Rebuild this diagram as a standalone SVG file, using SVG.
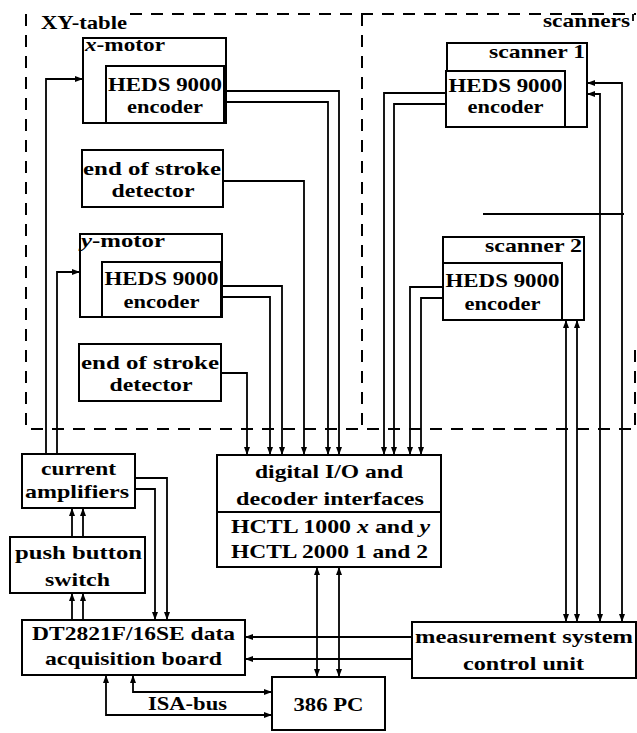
<svg xmlns="http://www.w3.org/2000/svg" width="637" height="733" viewBox="0 0 637 733">
<style>
  .box{fill:#fff;stroke:#000;stroke-width:2}
  .dash{fill:none;stroke:#000;stroke-width:2;stroke-dasharray:12 9}
  .ln{fill:none;stroke:#000;stroke-width:1.8}
  .a{marker-end:url(#ah)}
  .aa{marker-end:url(#ah);marker-start:url(#ah)}
  text{font-family:"Liberation Serif","DejaVu Serif",serif;font-weight:bold;font-size:19px;fill:#000}
  .c{text-anchor:middle}
  .e{text-anchor:end}
  .s{font-size:19px}
</style>
<defs>
  <marker id="ah" markerUnits="userSpaceOnUse" markerWidth="8" markerHeight="6" refX="8" refY="3" orient="auto-start-reverse">
    <path d="M0,0 L8,3 L0,6 z" fill="#000"/>
  </marker>
</defs>
<rect width="637" height="733" fill="#fff"/>

<g id="frames">
  <path class="dash" d="M26,14 V429 H636"/>
  <path class="dash" d="M130,14 H636"/>
  <path class="dash" d="M362,14 V429"/>
  <path class="dash" d="M635,350 V429"/>
  <path class="ln" d="M633,14 V21"/>
  <text class="s" x="41" y="29" textLength="86" lengthAdjust="spacingAndGlyphs" font-family="Liberation Serif, DejaVu Serif, serif">XY-table</text>
  <text class="s" x="543" y="27" textLength="87" lengthAdjust="spacingAndGlyphs" font-family="Liberation Serif, DejaVu Serif, serif">scanners</text>
</g>

<g id="connectors">
  <path class="ln a" d="M46,454 V79 H83"/>
  <path class="ln a" d="M57,454 V272 H80"/>
  <path class="ln a" d="M224,91 H339 V455"/>
  <path class="ln a" d="M224,102 H328 V455"/>
  <path class="ln a" d="M223,181 H304 V455"/>
  <path class="ln a" d="M221,286 H282 V455"/>
  <path class="ln a" d="M221,297 H270 V455"/>
  <path class="ln a" d="M221,373 H247 V455"/>
  <path class="ln a" d="M446,93 H384 V455"/>
  <path class="ln a" d="M446,104 H394 V455"/>
  <path class="ln a" d="M443,287 H410 V455"/>
  <path class="ln a" d="M443,298 H421 V455"/>
  <path class="ln aa" d="M622,622 V83 H587"/>
  <path class="ln aa" d="M600,622 V94 H587"/>
  <path class="ln aa" d="M566,320 V622"/>
  <path class="ln aa" d="M577,320 V622"/>
  <path class="ln" d="M483,214 H624"/>
  <path class="ln a" d="M412,637 H245"/>
  <path class="ln a" d="M412,659 H245"/>
  <path class="ln aa" d="M317,567 V677"/>
  <path class="ln aa" d="M339,567 V677"/>
  <path class="ln a" d="M135,478 H167 V620"/>
  <path class="ln a" d="M135,489 H155 V620"/>
  <path class="ln a" d="M72,537 V508"/>
  <path class="ln a" d="M83,537 V508"/>
  <path class="ln a" d="M72,620 V593"/>
  <path class="ln a" d="M83,620 V593"/>
  <path class="ln aa" d="M133,675 V692 H272"/>
  <path class="ln aa" d="M106,675 V715 H272"/>
</g>

<g id="x-motor">
  <rect class="box" x="83" y="38" width="143" height="85"/>
  <text x="85" y="51" textLength="80" lengthAdjust="spacingAndGlyphs"><tspan font-style="italic">x</tspan>-motor</text>
</g>
<g id="x-encoder">
  <rect class="box" x="106" y="66" width="118" height="57"/>
  <text class="c" x="165" y="91" textLength="114" lengthAdjust="spacingAndGlyphs">HEDS 9000</text>
  <text class="c" x="165" y="113" textLength="76" lengthAdjust="spacingAndGlyphs">encoder</text>
</g>
<g id="eos-1">
  <rect class="box" x="82" y="150" width="141" height="57"/>
  <text class="c" x="152" y="175" textLength="138" lengthAdjust="spacingAndGlyphs">end of stroke</text>
  <text class="c" x="153" y="197" textLength="83" lengthAdjust="spacingAndGlyphs">detector</text>
</g>
<g id="y-motor">
  <rect class="box" x="80" y="234" width="142" height="83"/>
  <text x="81" y="247" textLength="84" lengthAdjust="spacingAndGlyphs"><tspan font-style="italic">y</tspan>-motor</text>
</g>
<g id="y-encoder">
  <rect class="box" x="102" y="262" width="119" height="55"/>
  <text class="c" x="161.5" y="285" textLength="114" lengthAdjust="spacingAndGlyphs">HEDS 9000</text>
  <text class="c" x="161.5" y="308" textLength="76" lengthAdjust="spacingAndGlyphs">encoder</text>
</g>
<g id="eos-2">
  <rect class="box" x="79" y="344" width="142" height="57"/>
  <text class="c" x="150" y="369" textLength="138" lengthAdjust="spacingAndGlyphs">end of stroke</text>
  <text class="c" x="151" y="391" textLength="83" lengthAdjust="spacingAndGlyphs">detector</text>
</g>
<g id="scanner-1">
  <rect class="box" x="447" y="43" width="140" height="84"/>
  <text class="e" x="585" y="58" textLength="96" lengthAdjust="spacingAndGlyphs">scanner 1</text>
</g>
<g id="s1-encoder">
  <rect class="box" x="446" y="71" width="119" height="56"/>
  <text class="c" x="505.5" y="92" textLength="114" lengthAdjust="spacingAndGlyphs">HEDS 9000</text>
  <text class="c" x="505.5" y="113" textLength="76" lengthAdjust="spacingAndGlyphs">encoder</text>
</g>
<g id="scanner-2">
  <rect class="box" x="443" y="237" width="141" height="83"/>
  <text class="e" x="582" y="252" textLength="97" lengthAdjust="spacingAndGlyphs">scanner 2</text>
</g>
<g id="s2-encoder">
  <rect class="box" x="443" y="263" width="119" height="57"/>
  <text class="c" x="502.5" y="287" textLength="114" lengthAdjust="spacingAndGlyphs">HEDS 9000</text>
  <text class="c" x="502.5" y="310" textLength="76" lengthAdjust="spacingAndGlyphs">encoder</text>
</g>
<g id="current-amplifiers">
  <rect class="box" x="22" y="454" width="113" height="54"/>
  <text class="c" x="78.5" y="475" textLength="75" lengthAdjust="spacingAndGlyphs">current</text>
  <text class="c" x="77" y="498" textLength="104" lengthAdjust="spacingAndGlyphs">amplifiers</text>
</g>
<g id="push-button">
  <rect class="box" x="10" y="537" width="135" height="56"/>
  <text class="c" x="78.5" y="559" textLength="127" lengthAdjust="spacingAndGlyphs">push button</text>
  <text class="c" x="77.5" y="586" textLength="65" lengthAdjust="spacingAndGlyphs">switch</text>
</g>
<g id="dt2821">
  <rect class="box" x="22" y="620" width="223" height="55"/>
  <text class="c" x="133.5" y="640" textLength="203" lengthAdjust="spacingAndGlyphs">DT2821F/16SE data</text>
  <text class="c" x="133.5" y="665" textLength="177" lengthAdjust="spacingAndGlyphs">acquisition board</text>
</g>
<g id="digital-io">
  <rect class="box" x="217" y="455" width="224" height="112"/>
  <path class="ln" d="M217,512 H441" stroke-width="2"/>
  <text class="c" x="329" y="478" textLength="148" lengthAdjust="spacingAndGlyphs">digital I/O and</text>
  <text class="c" x="330" y="505" textLength="188" lengthAdjust="spacingAndGlyphs">decoder interfaces</text>
  <text class="c" x="330.5" y="533" textLength="199" lengthAdjust="spacingAndGlyphs">HCTL 1000 <tspan font-style="italic">x</tspan> and <tspan font-style="italic">y</tspan></text>
  <text class="c" x="329.5" y="558" textLength="197" lengthAdjust="spacingAndGlyphs">HCTL 2000 1 and 2</text>
</g>
<g id="pc386">
  <rect class="box" x="272" y="677" width="113" height="53"/>
  <text class="c" x="328.5" y="711" textLength="70" lengthAdjust="spacingAndGlyphs">386 PC</text>
</g>
<g id="isa-bus">
  <text class="c" x="187.5" y="710" textLength="79" lengthAdjust="spacingAndGlyphs">ISA-bus</text>
</g>
<g id="measurement">
  <rect class="box" x="412" y="622" width="224" height="56"/>
  <text class="c" x="524" y="643" textLength="218" lengthAdjust="spacingAndGlyphs">measurement system</text>
  <text class="c" x="523.5" y="670" textLength="121" lengthAdjust="spacingAndGlyphs">control unit</text>
</g>
</svg>
